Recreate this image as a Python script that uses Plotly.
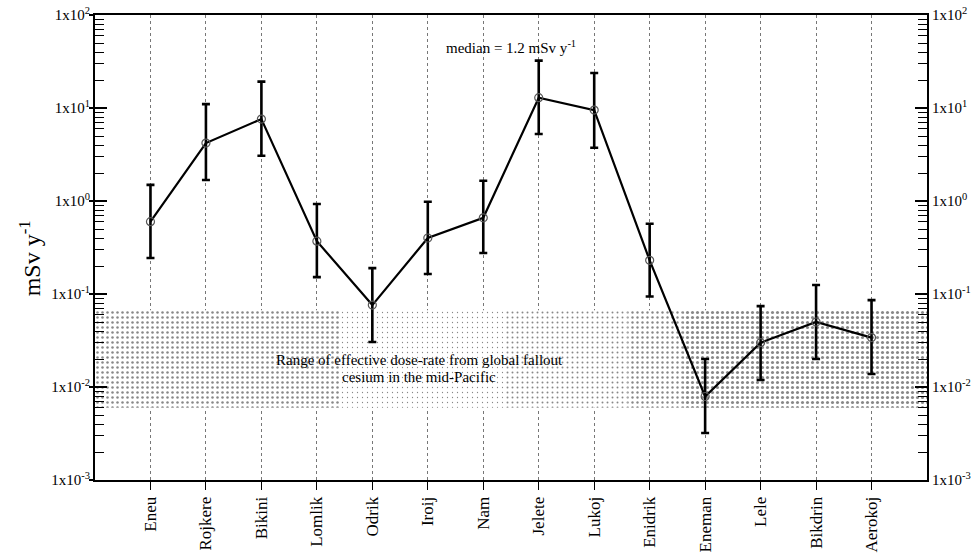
import math
import plotly.graph_objects as go

# ---------------- data ----------------
islands = ["Eneu", "Rojkere", "Bikini", "Lomlik", "Odrik", "Iroij", "Nam",
           "Jelete", "Lukoj", "Enidrik", "Eneman", "Lele", "Bikdrin", "Aerokoj"]
dose_mid = [0.60, 4.2, 7.6, 0.37, 0.076, 0.40, 0.66, 12.9, 9.5, 0.23, 0.0079, 0.030, 0.050, 0.034]
dose_high = [1.49, 11.0, 19.2, 0.93, 0.19, 0.98, 1.65, 32.3, 23.8, 0.57, 0.020, 0.074, 0.125, 0.086]
dose_low = [0.244, 1.68, 3.07, 0.152, 0.0305, 0.164, 0.276, 5.25, 3.74, 0.094, 0.0032, 0.0119, 0.020, 0.0138]

# global fallout band (mSv/y) and its segments along the x axis
band_low = 0.0060
band_high = 0.067
band_breaks = [-1.0, 3.4, 6.4, 8.6, 9.6, 14.0]

decades = [-3, -2, -1, 0, 1, 2]
tick_text = ["1x10<sup>%d</sup>" % d for d in decades]

y_title = "mSv y<sup>-1</sup>"
median_text = "median = 1.2 mSv y<sup>-1</sup>"
band_text_1 = "Range of effective dose-rate from global fallout"
band_text_2 = "cesium in the mid-Pacific"

# ---------------- figure ----------------
FONT = "Liberation Serif"
xs = list(range(len(islands)))

fig = go.Figure()

# stippled band, density varying by segment
solidities = [0.20, 0.05, 0.12, 0.18, 0.30]
for i in range(len(band_breaks) - 1):
    x0, x1 = band_breaks[i], band_breaks[i + 1]
    fig.add_trace(go.Scatter(
        x=[x0, x1, x1, x0, x0], y=[band_high, band_high, band_low, band_low, band_high],
        mode="lines", line=dict(width=0), fill="toself", fillcolor="rgba(0,0,0,0)",
        fillpattern=dict(shape=".", fgcolor="#111", bgcolor="white", size=5,
                         solidity=solidities[i]),
        hoverinfo="skip", showlegend=False))

err_plus = [h - m for h, m in zip(dose_high, dose_mid)]
err_minus = [m - l for m, l in zip(dose_mid, dose_low)]

fig.add_trace(go.Scatter(
    x=xs, y=dose_mid, mode="lines+markers",
    line=dict(color="black", width=2.2),
    marker=dict(symbol="circle-open", size=8, color="#555", line=dict(width=1.2)),
    error_y=dict(type="data", symmetric=False, array=err_plus, arrayminus=err_minus,
                 color="black", thickness=2.6, width=4),
    showlegend=False))

# companion traces for the extra axes (invisible)
for ax in ("y2", "y3"):
    fig.add_trace(go.Scatter(x=[xs[0]], y=[dose_mid[0]], yaxis=ax, mode="markers",
                             marker=dict(opacity=0), hoverinfo="skip", showlegend=False))

minor_vals = [m * 10 ** d for d in decades[:-1] for m in range(2, 10)]
tick_vals = [10 ** d for d in decades]

yaxis_common = dict(
    type="log", range=[-3, 2], tickmode="array", tickvals=tick_vals, ticktext=tick_text,
    ticks="inside", ticklen=12, tickwidth=1.5, tickcolor="black",
    minor=dict(tickmode="array", tickvals=minor_vals, ticks="inside", ticklen=9,
               tickwidth=1, tickcolor="black", showgrid=False),
    showgrid=False, zeroline=False, showline=True, linecolor="black", linewidth=2,
    tickfont=dict(family=FONT, size=15, color="black"), automargin=False,
)

fig.update_layout(
    width=976, height=554,
    margin=dict(l=95, r=49, t=15, b=74, autoexpand=False),
    paper_bgcolor="white", plot_bgcolor="white",
    font=dict(family=FONT, color="black"),
    xaxis=dict(
        range=[-1, 14], tickmode="array", tickvals=xs, ticktext=islands,
        tickangle=-90, ticks="outside", ticklen=8, tickcolor="black", tickwidth=1,
        showgrid=True, gridcolor="#777", griddash="dot", gridwidth=1,
        showline=True, linecolor="black", linewidth=2, mirror=True, zeroline=False,
        tickfont=dict(family=FONT, size=17, color="black"), automargin=False,
    ),
    yaxis=dict(**yaxis_common, side="left"),
    yaxis2=dict(**yaxis_common, side="right", overlaying="y"),
    yaxis3=dict(type="log", range=[-3, 2], overlaying="y", side="left",
                tickmode="array", tickvals=tick_vals, ticks="outside", ticklen=5,
                tickwidth=1.5, tickcolor="black", showticklabels=False,
                showgrid=False, zeroline=False, showline=False, automargin=False),
    annotations=[
        dict(x=-0.078, y=0.477, xref="paper", yref="paper", xanchor="center",
             yanchor="middle", textangle=-90, text=y_title, showarrow=False,
             font=dict(family=FONT, size=24, color="black")),
        dict(x=6.5, y=math.log10(45), xref="x", yref="y", yanchor="middle",
             text=median_text, showarrow=False,
             font=dict(family=FONT, size=15, color="black")),
        dict(x=4.85, y=math.log10(0.0195), xref="x", yref="y", yanchor="middle",
             text=band_text_1, showarrow=False,
             font=dict(family=FONT, size=15, color="black")),
        dict(x=4.85, y=math.log10(0.0128), xref="x", yref="y", yanchor="middle",
             text=band_text_2, showarrow=False,
             font=dict(family=FONT, size=15, color="black")),
    ],
)

fig.write_html("out.html")
